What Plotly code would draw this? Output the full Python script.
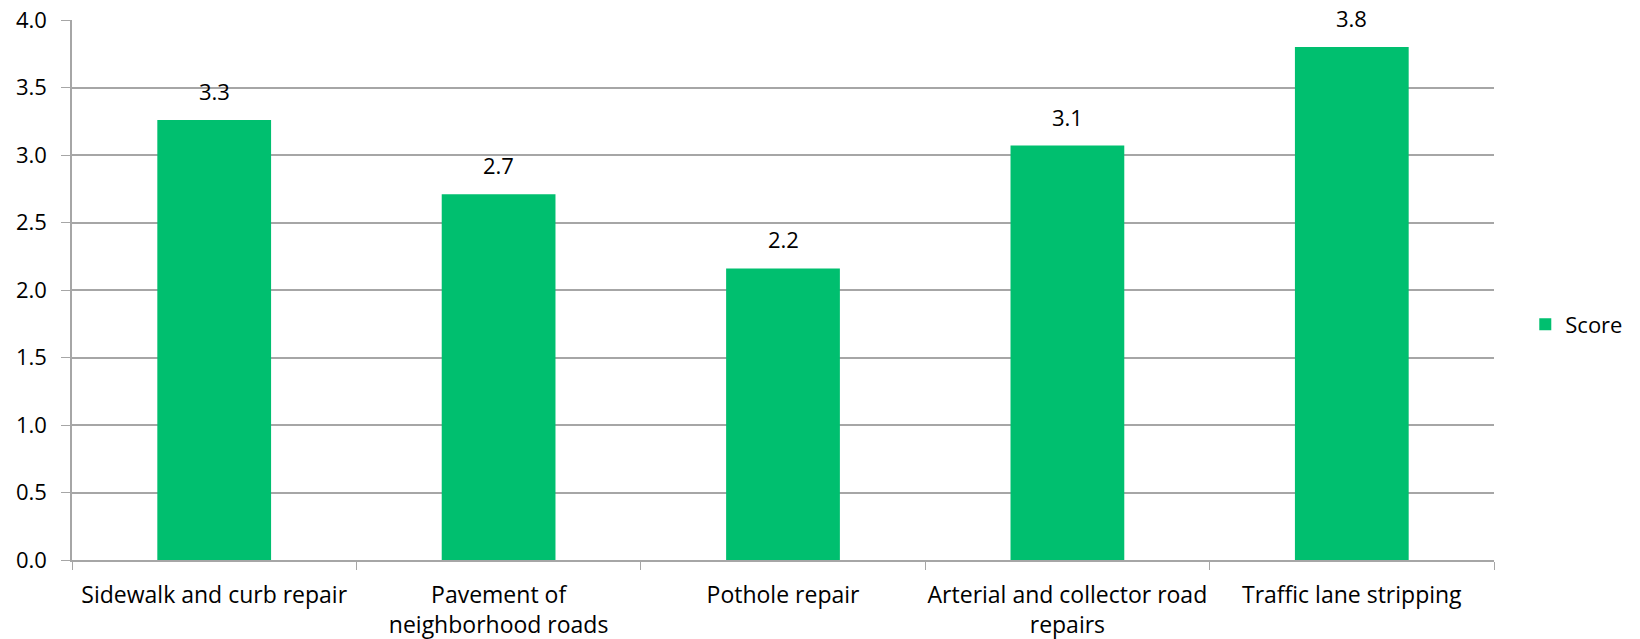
import plotly.graph_objects as go

categories = [
    "Sidewalk and curb repair",
    "Pavement of<br>neighborhood roads",
    "Pothole repair",
    "Arterial and collector road<br>repairs",
    "Traffic lane stripping",
]
scores = [3.26, 2.71, 2.16, 3.07, 3.80]
y_ticks = [0.0, 0.5, 1.0, 1.5, 2.0, 2.5, 3.0, 3.5, 4.0]

bar_color = "#00BF6F"
grid_color = "#A6A6A6"
font_family = "Open Sans"

fig = go.Figure()
fig.add_trace(go.Bar(
    x=categories, y=scores,
    name="Score",
    marker=dict(color=bar_color, line=dict(width=0)),
    width=0.4,
))

# value labels above bars
for c, v in zip(categories, scores):
    fig.add_annotation(
        x=c, y=v, text=f"{v:.1f}",
        showarrow=False, yanchor="bottom", yshift=12,
        font=dict(family=font_family, size=22, color="#000000"),
    )

# page body has an 8px margin, so the figure is 8px smaller and margins shifted
fig.update_layout(
    width=1632, height=631,
    margin=dict(l=64, r=140, t=12, b=78.5),
    plot_bgcolor="white", paper_bgcolor="white",
    font=dict(family=font_family, size=22, color="#000000"),
    showlegend=True,
    legend=dict(
        x=1.022, y=0.436, xanchor="left", yanchor="middle",
        font=dict(size=22), itemwidth=30,
    ),
    bargap=0.6,
)
fig.update_xaxes(
    automargin=False, tickangle=0,
    showline=True, linecolor=grid_color, linewidth=1.5,
    ticks="outside", tickson="boundaries", ticklen=8, tickcolor=grid_color,
    ticklabelstandoff=14, tickfont=dict(size=23),
    ticklabeloverflow="allow",
    showgrid=False,
)
fig.update_yaxes(
    automargin=False,
    range=[0, 4.0], tickvals=y_ticks, tickformat=".1f",
    showgrid=True, gridcolor=grid_color, gridwidth=1.5,
    showline=True, linecolor=grid_color, linewidth=1.5,
    ticks="outside", ticklen=9, tickcolor=grid_color,
    ticklabelstandoff=10, ticklabeloverflow="allow",
    zeroline=False,
)

fig.write_html("out.html")
